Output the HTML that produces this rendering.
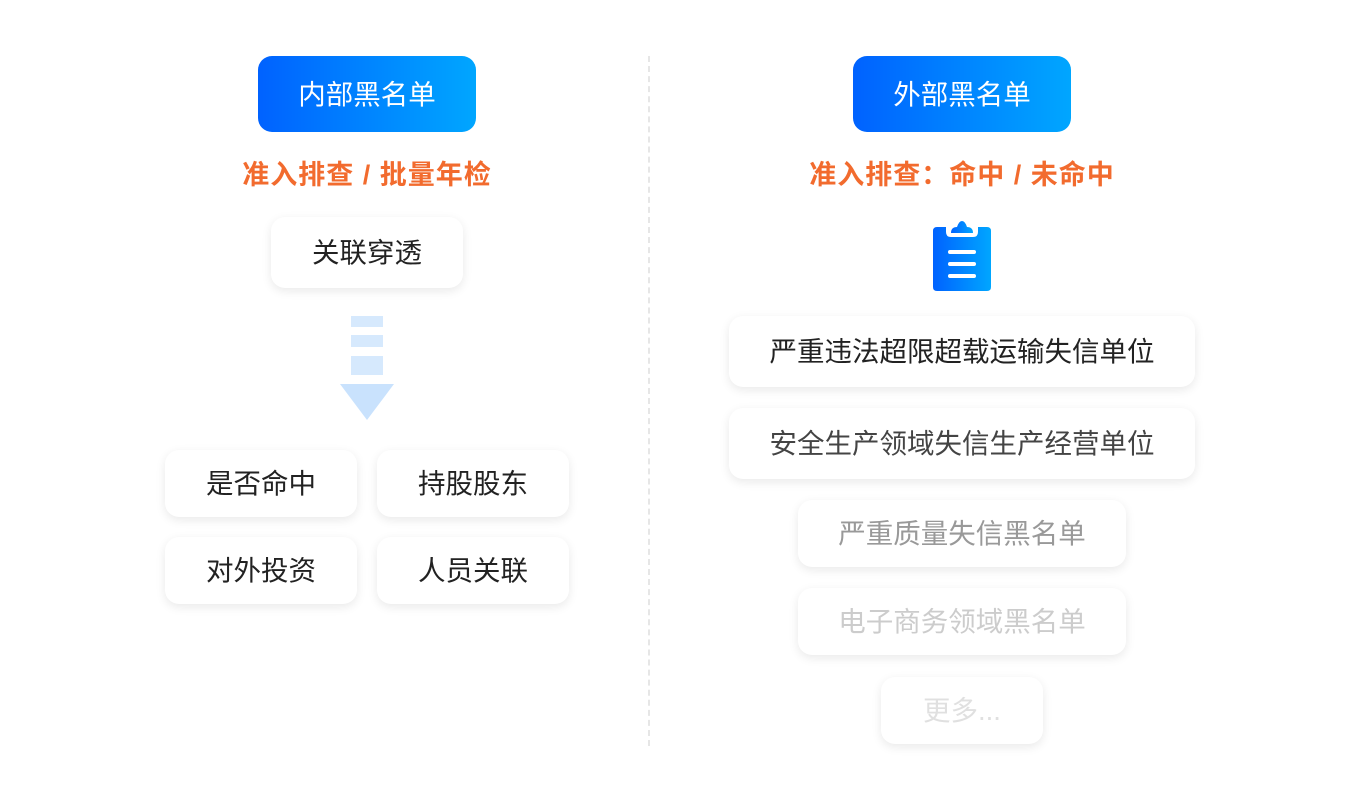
<!DOCTYPE html>
<html><head><meta charset="utf-8"><style>
*{margin:0;padding:0;box-sizing:border-box}
body{width:1360px;height:800px;background:#fff;position:relative;overflow:hidden;font-family:"Liberation Sans","Noto Sans CJK SC",sans-serif}
.a{position:absolute;display:flex;align-items:center;justify-content:center;white-space:nowrap;padding-bottom:5px}
.hd{background:linear-gradient(90deg,#0062ff,#00a6ff);color:#fff;font-size:27.5px;border-radius:14px}
.or{color:#f26b2e;font-size:27px;font-weight:bold;letter-spacing:1px}
.c{background:#fff;border-radius:14px;box-shadow:0 3px 10px rgba(0,0,0,0.09);font-size:27.5px;color:#222}
.bar{position:absolute;background:#d6e9fd;left:351px;width:32px}
</style></head><body>
<div style="position:absolute;left:648px;top:56px;height:690px;border-left:2px dashed #e6e6e6"></div>

<div class="a hd" style="left:258px;top:56px;width:218px;height:76px">内部黑名单</div>
<div class="a or" style="left:200px;top:155px;width:334px;height:40px">准入排查&nbsp;/&nbsp;批量年检</div>
<div class="a c" style="left:271px;top:217px;width:192px;height:71px">关联穿透</div>
<div class="bar" style="top:316px;height:11px"></div>
<div class="bar" style="top:335px;height:12px"></div>
<div class="bar" style="top:356px;height:19px"></div>
<svg style="position:absolute;left:340px;top:384px" width="54" height="36"><polygon points="0,0 54,0 27,36" fill="#c9e2fd"/></svg>
<div class="a c" style="left:165px;top:450px;width:192px;height:67px">是否命中</div>
<div class="a c" style="left:377px;top:450px;width:192px;height:67px">持股股东</div>
<div class="a c" style="left:165px;top:537px;width:192px;height:67px">对外投资</div>
<div class="a c" style="left:377px;top:537px;width:192px;height:67px">人员关联</div>

<div class="a hd" style="left:853px;top:56px;width:218px;height:76px">外部黑名单</div>
<div class="a or" style="left:740px;top:155px;width:444px;height:40px">准入排查：命中&nbsp;/&nbsp;未命中</div>
<svg style="position:absolute;left:933px;top:220px" width="58" height="71">
<defs><linearGradient id="g" x1="0" x2="1"><stop offset="0" stop-color="#0062ff"/><stop offset="1" stop-color="#00a6ff"/></linearGradient></defs>
<path d="M4 7 H13 V12 Q13 17 18 17 H40 Q45 17 45 12 V7 H54 Q58 7 58 11 V67 Q58 71 54 71 H4 Q0 71 0 67 V11 Q0 7 4 7Z" fill="url(#g)"/>
<path d="M18 13 Q18 7 24 7 Q26 1 29 1 Q32 1 34 7 Q40 7 40 13Z" fill="url(#g)"/>
<rect x="15" y="30" width="28" height="4" rx="2" fill="#fff"/>
<rect x="15" y="42" width="28" height="4" rx="2" fill="#fff"/>
<rect x="15" y="54" width="28" height="4" rx="2" fill="#fff"/>
</svg>
<div class="a c" style="left:729px;top:316px;width:466px;height:71px">严重违法超限超载运输失信单位</div>
<div class="a c" style="left:729px;top:408px;width:466px;height:71px;color:#444">安全生产领域失信生产经营单位</div>
<div class="a c" style="left:798px;top:500px;width:328px;height:67px;color:#999">严重质量失信黑名单</div>
<div class="a c" style="left:798px;top:588px;width:328px;height:67px;color:#ccc">电子商务领域黑名单</div>
<div class="a c" style="left:881px;top:677px;width:162px;height:67px;color:#e0e0e0">更多...</div>
</body></html>
